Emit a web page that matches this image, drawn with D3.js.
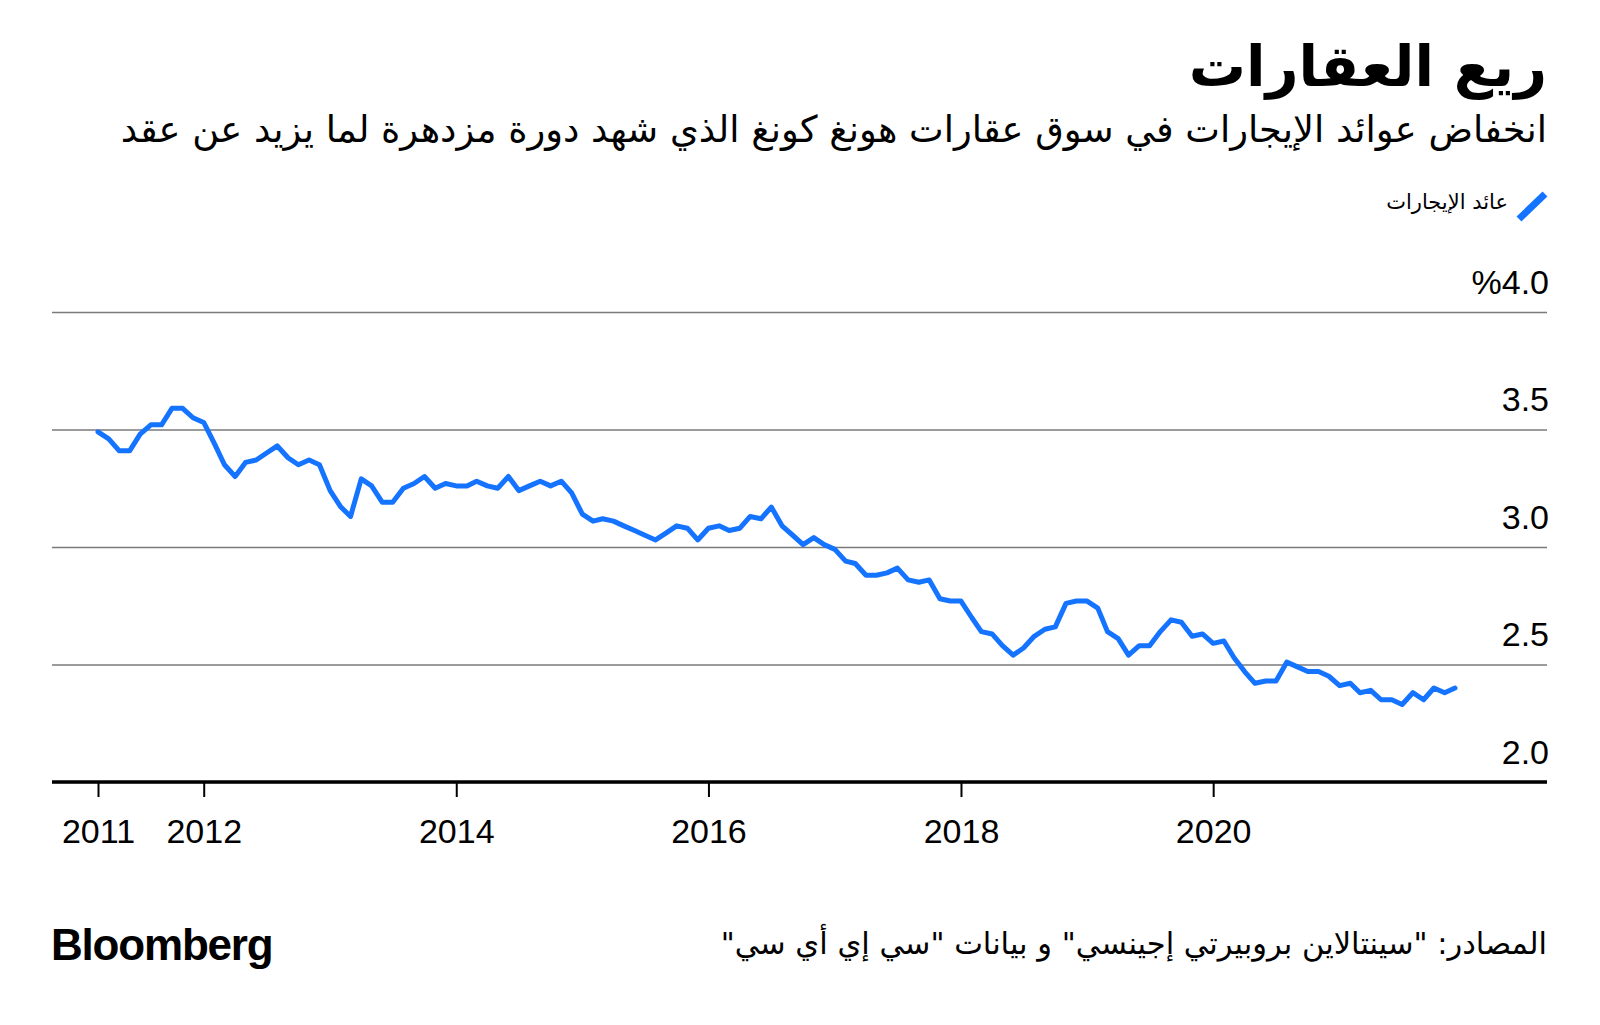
<!DOCTYPE html>
<html lang="ar">
<head>
<meta charset="utf-8">
<script src="https://cdn.jsdelivr.net/npm/d3@7"></script>
<style>
  html, body { margin: 0; padding: 0; background: #fff; }
  #wrap { position: relative; width: 1600px; height: 1025px; overflow: hidden; background: #fff; }
  .ar { position: absolute; direction: rtl; text-align: right; white-space: nowrap; color: #000; font-family: "DejaVu Sans", "Noto Sans", sans-serif; line-height: 1; }
  #title { right: 53px; top: 38px; font-size: 57px; font-weight: bold; }
  #subtitle { right: 53px; top: 112px; font-size: 36.8px; }
  #legend { right: 92px; top: 192px; font-size: 21px; }
  #source { right: 53px; top: 929px; font-size: 30.5px; }
  #logo { position: absolute; left: 51px; top: 923px; font-family: "Liberation Sans", Arial, sans-serif; font-weight: bold; font-size: 44px; letter-spacing: -1.2px; color: #000; line-height: 1; }
  svg { position: absolute; left: 0; top: 0; }
</style>
</head>
<body>
<div id="wrap">
  <svg id="chart" width="1600" height="1025"></svg>
  <div class="ar" id="title">ريع العقارات</div>
  <div class="ar" id="subtitle">انخفاض عوائد الإيجارات في سوق عقارات هونغ كونغ الذي شهد دورة مزدهرة لما يزيد عن عقد</div>
  <div class="ar" id="legend">عائد الإيجارات</div>
  <div class="ar" id="source">المصادر: "سينتالاين بروبيرتي إجينسي" و بيانات "سي إي أي سي"</div>
  <div id="logo">Bloomberg</div>
</div>
<script>
// ---- Data: monthly rental yield (%), March 2011 – December 2021 ----
const firstMonth = "2011-03";
const yields2011 = [3.49, 3.46, 3.41, 3.41, 3.48, 3.52, 3.52, 3.59, 3.59, 3.55];
const yields2012 = [3.53, 3.44, 3.35, 3.30, 3.36, 3.37, 3.40, 3.43, 3.38, 3.35, 3.37, 3.35];
const yields2013 = [3.24, 3.17, 3.13, 3.29, 3.26, 3.19, 3.19, 3.25, 3.27, 3.30, 3.25, 3.27];
const yields2014 = [3.26, 3.26, 3.28, 3.26, 3.25, 3.30, 3.24, 3.26, 3.28, 3.26, 3.28, 3.23];
const yields2015 = [3.14, 3.11, 3.12, 3.11, 3.09, 3.07, 3.05, 3.03, 3.06, 3.09, 3.08, 3.03];
const yields2016 = [3.08, 3.09, 3.07, 3.08, 3.13, 3.12, 3.17, 3.09, 3.05, 3.01, 3.04, 3.01];
const yields2017 = [2.99, 2.94, 2.93, 2.88, 2.88, 2.89, 2.91, 2.86, 2.85, 2.86, 2.78, 2.77];
const yields2018 = [2.77, 2.70, 2.64, 2.63, 2.58, 2.54, 2.57, 2.62, 2.65, 2.66, 2.76, 2.77];
const yields2019 = [2.77, 2.74, 2.64, 2.61, 2.54, 2.58, 2.58, 2.64, 2.69, 2.68, 2.62, 2.63];
const yields2020 = [2.59, 2.60, 2.53, 2.47, 2.42, 2.43, 2.43, 2.51, 2.49, 2.47, 2.47, 2.45];
const yields2021 = [2.41, 2.42, 2.38, 2.39, 2.35, 2.35, 2.33, 2.38, 2.35, 2.40, 2.38, 2.40];

const xTickDates = ["2011-03", "2012-01", "2014-01", "2016-01", "2018-01", "2020-01"];
const xTickLabels = ["2011", "2012", "2014", "2016", "2018", "2020"];
const yTickValues = [2.0, 2.5, 3.0, 3.5, 4.0];
const yTickLabels = ["2.0", "2.5", "3.0", "3.5", "%4.0"];
const seriesName = "عائد الإيجارات";

// ---- Build table ----
const parseMonth = d3.timeParse("%Y-%m");
const allYields = [].concat(yields2011, yields2012, yields2013, yields2014, yields2015,
  yields2016, yields2017, yields2018, yields2019, yields2020, yields2021);
const startDate = parseMonth(firstMonth);
const data = allYields.map((v, i) => ({ date: d3.timeMonth.offset(startDate, i), value: v }));

// ---- Layout ----
const gLeft = 52, gRight = 1547, gTop = 312, gBottom = 782;
const plotX0 = 98, plotX1 = 1455;

const x = d3.scaleTime()
  .domain(d3.extent(data, d => d.date))
  .range([plotX0, plotX1]);
const y = d3.scaleLinear().domain([2, 4]).range([gBottom, gTop]);

const svg = d3.select("#chart");

// gridlines + y labels
const yAxis = d3.axisRight(y)
  .tickValues(yTickValues)
  .tickSize(gRight - gLeft)
  .tickFormat((d, i) => yTickLabels[i]);
const gy = svg.append("g").attr("transform", `translate(${gLeft},0)`).call(yAxis);
gy.select(".domain").remove();
gy.selectAll(".tick line").attr("stroke", "#7a7a7a").attr("stroke-width", 1.6);
gy.selectAll(".tick text")
  .attr("x", gRight - gLeft + 2)
  .attr("y", -19)
  .attr("dy", 0)
  .attr("text-anchor", "end")
  .attr("fill", "#000")
  .style("font-family", "'Liberation Sans', Arial, sans-serif")
  .style("font-size", "34px");

// x axis
const xAxis = d3.axisBottom(x)
  .tickValues(xTickDates.map(parseMonth))
  .tickSize(15)
  .tickFormat((d, i) => xTickLabels[i]);
const gx = svg.append("g").attr("transform", `translate(0,${gBottom})`).call(xAxis);
gx.select(".domain").remove();
gx.selectAll(".tick line").attr("stroke", "#000").attr("stroke-width", 2);
gx.selectAll(".tick text")
  .attr("y", 61)
  .attr("dy", 0)
  .attr("fill", "#000")
  .style("font-family", "'Liberation Sans', Arial, sans-serif")
  .style("font-size", "34px");

// baseline (2.0)
svg.append("line")
  .attr("x1", gLeft).attr("x2", gRight)
  .attr("y1", y(2)).attr("y2", y(2))
  .attr("stroke", "#000").attr("stroke-width", 3.5);

// series line
const line = d3.line().x(d => x(d.date)).y(d => y(d.value));
svg.append("path")
  .datum(data)
  .attr("d", line)
  .attr("fill", "none")
  .attr("stroke", "#1473ff")
  .attr("stroke-width", 5)
  .attr("stroke-linejoin", "round")
  .attr("stroke-linecap", "round");

// legend swatch
svg.append("line")
  .attr("x1", 1519).attr("y1", 219)
  .attr("x2", 1545).attr("y2", 194)
  .attr("stroke", "#1473ff").attr("stroke-width", 7);
d3.select("#legend").text(seriesName);
</script>
</body>
</html>
